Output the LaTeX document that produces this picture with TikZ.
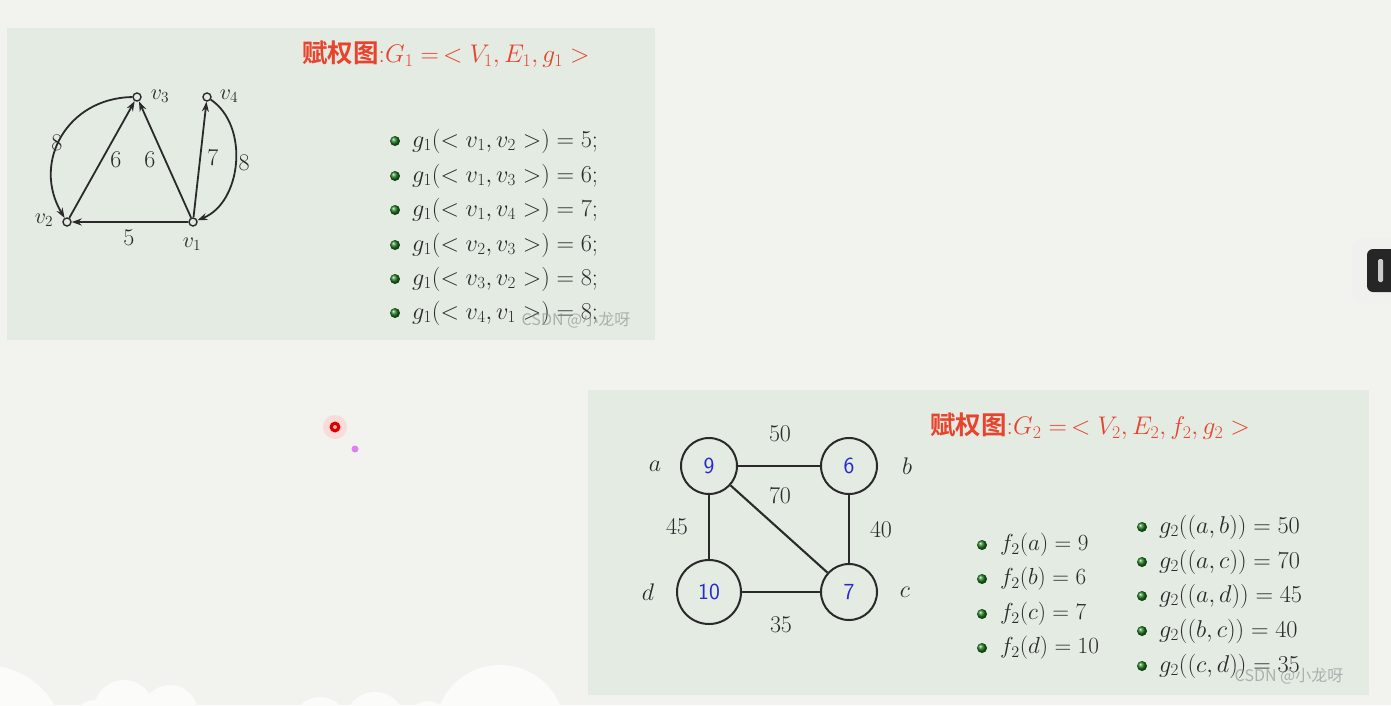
\RequirePackage{fix-cm}
\documentclass[tikz,border=0pt]{standalone}
\usepackage{fontspec}
\usepackage{amsmath}
\newfontfamily\cjk{Noto Sans CJK SC}
\newfontfamily\cjkb{Noto Sans CJK SC Bold}
\usetikzlibrary{arrows.meta}
\definecolor{bg}{HTML}{F2F2EE}
\definecolor{panel}{HTML}{E3EBE3}
\definecolor{tred}{HTML}{E8432D}
\definecolor{nblue}{HTML}{2A2ACC}
\definecolor{bgreen}{HTML}{1E7A1E}
\definecolor{ink}{HTML}{2A2A2A}
\definecolor{pinkdot}{HTML}{E080F0}
\definecolor{cloud}{HTML}{FBFBF9}
\begin{document}
\begin{tikzpicture}[x=1pt,y=-1pt,
  vtx/.style={circle,draw=ink,line width=1.4pt,inner sep=0pt,minimum size=8pt,fill=panel},
  arr/.style={-{Stealth[length=10pt,width=7pt]},line width=1.8pt,draw=ink},
  vlab/.style={inner sep=0pt,font=\fontsize{22}{26}\selectfont,text=ink},
  wlab/.style={inner sep=0pt,font=\fontsize{24}{28}\selectfont,text=ink},
  item/.style={anchor=west,inner sep=0pt,font=\fontsize{24.3}{28}\selectfont,text=ink},
  itemf/.style={anchor=west,inner sep=0pt,font=\fontsize{23.2}{27}\selectfont,text=ink},
  itemg/.style={anchor=west,inner sep=0pt,font=\fontsize{24.3}{28}\selectfont,text=ink},
  dot/.style={circle,inner sep=0pt,minimum size=10pt,shading=ball,ball color=bgreen},
  title/.style={anchor=west,inner sep=0pt,text=tred,font=\fontsize{25.5}{29}\selectfont},
  cnode/.style={circle,draw=ink,line width=2pt,inner sep=0pt,font=\sffamily\fontsize{23}{26}\selectfont,text=nblue},
  edge2/.style={line width=2.1pt,draw=ink},
  wm/.style={inner sep=0pt,text=gray,opacity=0.55,font=\cjk\fontsize{16}{18}\selectfont}]
\fill[bg] (0,0) rectangle (1391,705);
\useasboundingbox (0,0) rectangle (1391,705);
% clouds
\begin{scope}
\clip (0,0) rectangle (1391,705);
\fill[cloud] (-15,745) circle (80);
\fill[cloud] (95,722) circle (22);
\fill[cloud] (124,710) circle (30);
\fill[cloud] (170,713) circle (28);
\fill[cloud] (320,725) circle (28);
\fill[cloud] (375,722) circle (30);
\fill[cloud] (428,720) circle (19);
\fill[cloud] (500,730) circle (65);
\end{scope}
% panels
\fill[panel] (7,28) rectangle (655,340);
\fill[panel] (588,390) rectangle (1369,695);
% ---------- graph 1 ----------
\node[title] (t1) at (302,54) {{\cjkb 赋权图}:$G_1 =\, < V_1, E_1, g_1 >$};
\node[vtx] (v3) at (137,97) {};
\node[vtx] (v4) at (207,97) {};
\node[vtx] (v2) at (67,222) {};
\node[vtx] (v1) at (193,222) {};
\node[vlab] (l3) at (160,96) {$v_3$};
\node[vlab] (l4) at (229,96) {$v_4$};
\node[vlab] (l2) at (44,220) {$v_2$};
\node[vlab] (l1) at (192,244) {$v_1$};
\draw[arr] (v1) -- (v2);
\draw[arr] (v1) -- (v3);
\draw[arr] (v1) -- (v4);
\draw[arr] (v2) -- (v3);
\draw[arr] (v3) to[bend right=60,looseness=1.2] (v2);
\draw[arr] (v4) to[bend left=62] (v1);
\node[wlab] (w32) at (57,143) {$8$};
\node[wlab] (w23) at (116,160) {$6$};
\node[wlab] (w13) at (150,160) {$6$};
\node[wlab] (w14) at (213,158) {$7$};
\node[wlab] (w41) at (244,163) {$8$};
\node[wlab] (w12) at (129,238) {$5$};
% list 1
\node[dot] (b1) at (395,141) {}; \node[item] (i1) at (412,141) {$g_1(<v_1,v_2>)=5;$};
\node[dot] (b2) at (395,176) {}; \node[item] (i2) at (412,176) {$g_1(<v_1,v_3>)=6;$};
\node[dot] (b3) at (395,210) {}; \node[item] (i3) at (412,210) {$g_1(<v_1,v_4>)=7;$};
\node[dot] (b4) at (395,245) {}; \node[item] (i4) at (412,245) {$g_1(<v_2,v_3>)=6;$};
\node[dot] (b5) at (395,279) {}; \node[item] (i5) at (412,279) {$g_1(<v_3,v_2>)=8;$};
\node[dot] (b6) at (395,313) {}; \node[item] (i6) at (412,313) {$g_1(<v_4,v_1>)=8;$};
\node[wm] (wm1) at (576,320) {CSDN @小龙呀};
% ---------- graph 2 ----------
\node[title] (t2) at (930,426) {{\cjkb 赋权图}:$G_2 =\, < V_2, E_2, f_2, g_2 >$};
\node[cnode,minimum size=56pt] (a) at (709,466) {9};
\node[cnode,minimum size=56pt] (b) at (849,466) {6};
\node[cnode,minimum size=56pt] (c) at (849,592) {7};
\node[cnode,minimum size=64pt] (d) at (709,592) {10};
\draw[edge2] (a) -- (b);
\draw[edge2] (a) -- (d);
\draw[edge2] (a) -- (c);
\draw[edge2] (b) -- (c);
\draw[edge2] (d) -- (c);
\node[wlab] (la) at (655,466) {$a$};
\node[wlab] (lb) at (907,466) {$b$};
\node[wlab] (lc) at (905,592) {$c$};
\node[wlab] (ld) at (648,592) {$d$};
\node[wlab] (wab) at (780,434) {$50$};
\node[wlab] (wac) at (780,496) {$70$};
\node[wlab] (wad) at (677,527) {$45$};
\node[wlab] (wbc) at (881,530) {$40$};
\node[wlab] (wcd) at (781,625) {$35$};
% f list
\node[dot] (f1) at (982,545) {}; \node[itemf] (fi1) at (1000,545) {$f_2(a)=9$};
\node[dot] (f2) at (982,579) {}; \node[itemf] (fi2) at (1000,579) {$f_2(b)=6$};
\node[dot] (f3) at (982,614) {}; \node[itemf] (fi3) at (1000,614) {$f_2(c)=7$};
\node[dot] (f4) at (982,648) {}; \node[itemf] (fi4) at (1000,648) {$f_2(d)=10$};
% g list
\node[dot] (g1) at (1142,527) {}; \node[itemg] (gi1) at (1159,527) {$g_2((a,b))=50$};
\node[dot] (g2) at (1142,562) {}; \node[itemg] (gi2) at (1159,562) {$g_2((a,c))=70$};
\node[dot] (g3) at (1142,596) {}; \node[itemg] (gi3) at (1159,596) {$g_2((a,d))=45$};
\node[dot] (g4) at (1142,631) {}; \node[itemg] (gi4) at (1159,631) {$g_2((b,c))=40$};
\node[dot] (g5) at (1142,666) {}; \node[itemg] (gi5) at (1159,666) {$g_2((c,d))=35$};
\node[wm] (wm2) at (1289,676) {CSDN @小龙呀};
% laser dots
\fill[red!20,opacity=0.6] (335,427) circle (12);
\fill[red!85!black] (335,427) circle (5.5);
\fill[red!35] (335,427) circle (2);
\fill[pinkdot] (355,449) circle (3.5);
% side button
\fill[black!6,opacity=0.6,rounded corners=12pt] (1352,238) rectangle (1400,303);
\fill[black!85,rounded corners=6pt] (1367,249) rectangle (1400,292);
\fill[gray!40,rounded corners=1.5pt] (1378,259) rectangle (1383,282);
\end{tikzpicture}
\end{document}
